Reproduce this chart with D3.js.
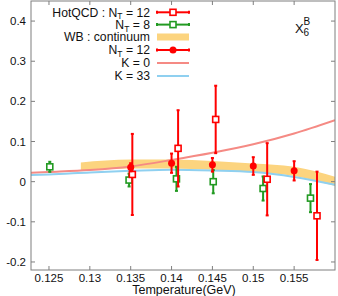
<!DOCTYPE html>
<html><head><meta charset="utf-8">
<script src="https://cdn.jsdelivr.net/npm/d3@7"></script>
<style>
html,body{margin:0;padding:0;background:#fff;}
svg{display:block;font-family:"Liberation Sans",Arial,sans-serif;}
</style></head>
<body>
<svg id="c" width="338" height="296"></svg>
<script>
// ---- data ----
const xTicks = [0.125, 0.13, 0.135, 0.14, 0.145, 0.15, 0.155];
const xTickLabels = ["0.125", "0.13", "0.135", "0.14", "0.145", "0.15", "0.155"];
const yTicks = [-0.2, -0.1, 0, 0.1, 0.2, 0.3, 0.4];
const yTickLabels = ["-0.2", "-0.1", "0", "0.1", "0.2", "0.3", "0.4"];

// HotQCD N_T = 12 (open red squares)
const hq12T   = [0.1352, 0.1408, 0.1454, 0.1517, 0.1578];
const hq12Val = [0.018, 0.083, 0.155, 0.006, -0.085];
const hq12Err = [0.101, 0.095, 0.084, 0.090, 0.110];

// HotQCD N_T = 8 (open green squares)
const hq8T   = [0.1251, 0.1348, 0.1406, 0.1451, 0.1512, 0.1570];
const hq8Val = [0.037, 0.004, 0.007, 0.000, -0.017, -0.041];
const hq8Err = [0.0125, 0.016, 0.030, 0.029, 0.030, 0.035];

// WB N_T = 12 (filled red circles)
const wbT   = [0.135, 0.140, 0.145, 0.150, 0.155];
const wbVal = [0.036, 0.046, 0.042, 0.039, 0.027];
const wbErr = [0.010, 0.024, 0.017, 0.022, 0.024];

// WB continuum band
const bandT  = [0.1289, 0.135, 0.140, 0.145, 0.150, 0.155, 0.160];
const bandLo = [0.027, 0.033, 0.033, 0.030, 0.024, 0.014, -0.011];
const bandHi = [0.048, 0.055, 0.055, 0.0515, 0.045, 0.037, 0.0124];

// HRG curves
const curveT = [0.1228, 0.125, 0.130, 0.135, 0.140, 0.145, 0.150, 0.155, 0.160];
const k0Val  = [0.022, 0.024, 0.029, 0.038, 0.054, 0.072, 0.093, 0.120, 0.153];
const k33Val = [0.0167, 0.018, 0.023, 0.027, 0.030, 0.028, 0.024, 0.0117, -0.008];

// ---- chart ----
const L = 31, R = 335, T = 1, B = 270;
const x = d3.scaleLinear().domain([0.1228, 0.16]).range([L, R]);
const y = d3.scaleLinear().domain([-0.22, 0.45]).range([B, T]);
const svg = d3.select("#c");
const RED = "#ff0000", GREEN = "#229a22", SALMON = "#f58a84", BLUE = "#8fd0f0", BAND = "#fcd47f";
const AX = "#7f7f7f";

svg.append("clipPath").attr("id", "clip").append("rect")
  .attr("x", L).attr("y", T).attr("width", R - L).attr("height", B - T);
const g = svg.append("g").attr("clip-path", "url(#clip)");

// band
const bandData = bandT.map((t, i) => ({t, lo: bandLo[i], hi: bandHi[i]}));
g.append("path").datum(bandData)
  .attr("d", d3.area().x(d => x(d.t)).y0(d => y(d.lo)).y1(d => y(d.hi)).curve(d3.curveMonotoneX))
  .attr("fill", BAND);

// curves
const ln = d3.line().x(d => x(d.t)).y(d => y(d.v)).curve(d3.curveMonotoneX);
g.append("path").datum(curveT.map((t, i) => ({t, v: k0Val[i]})))
  .attr("d", ln).attr("fill", "none").attr("stroke", SALMON).attr("stroke-width", 2);
g.append("path").datum(curveT.map((t, i) => ({t, v: k33Val[i]})))
  .attr("d", ln).attr("fill", "none").attr("stroke", BLUE).attr("stroke-width", 2);

function errBars(ts, vs, es, color) {
  ts.forEach((t, i) => {
    const cx = x(t), y1 = y(vs[i] + es[i]), y2 = y(vs[i] - es[i]);
    g.append("line").attr("x1", cx).attr("x2", cx).attr("y1", y1).attr("y2", y2)
      .attr("stroke", color).attr("stroke-width", 2);
    [y1, y2].forEach(yy => g.append("line").attr("x1", cx - 1.5).attr("x2", cx + 1.5)
      .attr("y1", yy).attr("y2", yy).attr("stroke", color).attr("stroke-width", 2));
  });
}
function squares(ts, vs, color) {
  ts.forEach((t, i) => {
    g.append("rect").attr("x", x(t) - 3).attr("y", y(vs[i]) - 3).attr("width", 6).attr("height", 6)
      .attr("fill", "#fff").attr("stroke", color).attr("stroke-width", 1.6);
  });
}
errBars(hq8T, hq8Val, hq8Err, GREEN);
squares(hq8T, hq8Val, GREEN);
errBars(hq12T, hq12Val, hq12Err, RED);
squares(hq12T, hq12Val, RED);
errBars(wbT, wbVal, wbErr, RED);
wbT.forEach((t, i) => g.append("circle").attr("cx", x(t)).attr("cy", y(wbVal[i])).attr("r", 3.5).attr("fill", RED));

// frame & ticks
svg.append("rect").attr("x", L).attr("y", T).attr("width", R - L).attr("height", B - T)
  .attr("fill", "none").attr("stroke", AX).attr("stroke-width", 1);
const tk = svg.append("g").attr("stroke", AX).attr("stroke-width", 1);
xTicks.forEach(v => {
  tk.append("line").attr("x1", x(v)).attr("x2", x(v)).attr("y1", B).attr("y2", B - 4);
  tk.append("line").attr("x1", x(v)).attr("x2", x(v)).attr("y1", T).attr("y2", T + 4);
});
yTicks.forEach(v => {
  tk.append("line").attr("x1", L).attr("x2", L + 4).attr("y1", y(v)).attr("y2", y(v));
  tk.append("line").attr("x1", R).attr("x2", R - 4).attr("y1", y(v)).attr("y2", y(v));
});
const txt = svg.append("g").attr("fill", "#111");
xTicks.forEach((v, i) => txt.append("text").attr("x", x(v)).attr("y", 281.5)
  .attr("text-anchor", "middle").attr("font-size", 11.5).text(xTickLabels[i]));
yTicks.forEach((v, i) => txt.append("text").attr("x", 26).attr("y", y(v) + 4)
  .attr("text-anchor", "end").attr("font-size", 11.5).text(yTickLabels[i]));
txt.append("text").attr("x", 184).attr("y", 293.5).attr("text-anchor", "middle")
  .attr("font-size", 12.5).text("Temperature(GeV)");

// observable label
txt.append("text").attr("x", 295).attr("y", 33).attr("font-size", 13).text("X");
txt.append("text").attr("x", 303.5).attr("y", 35.5).attr("font-size", 10).text("6");
txt.append("text").attr("x", 303.5).attr("y", 24.5).attr("font-size", 10).text("B");

// legend
const legendRows = [
  {pre: "HotQCD : N", sub: "T", post: " = 12", type: "sq", color: RED},
  {pre: "N", sub: "T", post: " = 8", type: "sq", color: GREEN},
  {pre: "WB : continuum", sub: "", post: "", type: "band", color: BAND},
  {pre: "N", sub: "T", post: " = 12", type: "circ", color: RED},
  {pre: "K = 0", sub: "", post: "", type: "line", color: SALMON},
  {pre: "K = 33", sub: "", post: "", type: "line", color: BLUE}
];
const rowY = [12.3, 24.6, 37, 50, 63, 76];
legendRows.forEach((r, i) => {
  const cy = rowY[i];
  const t = txt.append("text").attr("x", 150).attr("y", cy + 4.4).attr("text-anchor", "end").attr("font-size", 12.2);
  t.append("tspan").text(r.pre);
  if (r.sub) {
    t.append("tspan").attr("dy", 2.5).attr("font-size", 8.5).text(r.sub);
    t.append("tspan").attr("dy", -2.5).text(r.post);
  }
  const x1 = 157, x2 = 189, mx = 173;
  if (r.type === "band") {
    svg.append("rect").attr("x", x1).attr("y", cy - 3.5).attr("width", x2 - x1).attr("height", 7).attr("fill", BAND);
  } else {
    svg.append("line").attr("x1", x1).attr("x2", x2).attr("y1", cy).attr("y2", cy)
      .attr("stroke", r.color).attr("stroke-width", 2);
    if (r.type === "sq" || r.type === "circ") {
      [x1, x2].forEach(xx => svg.append("line").attr("x1", xx).attr("x2", xx).attr("y1", cy - 1.5).attr("y2", cy + 1.5)
        .attr("stroke", r.color).attr("stroke-width", 2));
    }
    if (r.type === "sq") svg.append("rect").attr("x", mx - 3).attr("y", cy - 3).attr("width", 6).attr("height", 6)
      .attr("fill", "#fff").attr("stroke", r.color).attr("stroke-width", 1.6);
    if (r.type === "circ") svg.append("circle").attr("cx", mx).attr("cy", cy).attr("r", 3.5).attr("fill", r.color);
  }
});
</script>
</body></html>
